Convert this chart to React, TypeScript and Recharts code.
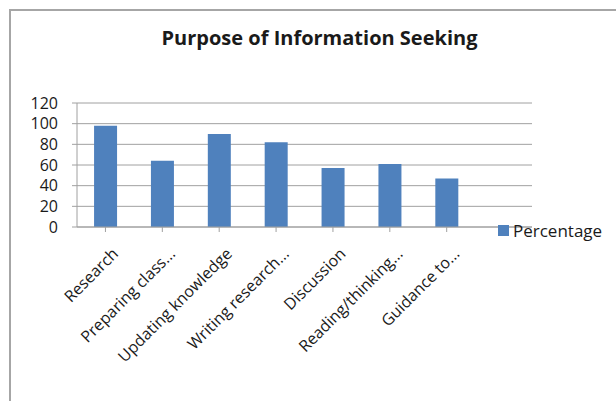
import { BarChart, Bar, XAxis, YAxis, CartesianGrid } from "recharts";

const categories = [
  "Research",
  "Preparing class...",
  "Updating knowledge",
  "Writing research...",
  "Discussion",
  "Reading/thinking...",
  "Guidance to...",
  "",
];
const percentage = [98, 64, 90, 82, 57, 61, 47, null];
const yTicks = [0, 20, 40, 60, 80, 100, 120];
const seriesName = "Percentage";

const data = categories.map((name, i) => ({ name, Percentage: percentage[i] }));

const FONT = "'Open Sans', sans-serif";
const TEXT = "#1a1a1a";
const BAR = "#4f81bd";

// rotated category labels, end of text hangs just under the category centre
function AngledTick(props: any) {
  const { x, y, payload } = props;
  return (
    <g transform={`translate(${x + 11},${y + 18})`}>
      <text
        x={0}
        y={0}
        dy={4}
        textAnchor="end"
        transform="rotate(-45)"
        fontSize={16}
        fontFamily={FONT}
        fill={TEXT}
      >
        {payload.value}
      </text>
    </g>
  );
}

export default function App() {
  return (
    <div
      style={{
        position: "fixed",
        left: 0,
        top: 0,
        width: 616,
        height: 401,
        overflow: "hidden",
        background: "#fff",
      }}
    >
      <div
        style={{
          position: "absolute",
          left: 9,
          top: 9,
          width: 700,
          height: 500,
          border: "2px solid #a6a6a6",
        }}
      />
      <div
        style={{
          position: "absolute",
          left: 0,
          width: 639,
          top: 24,
          textAlign: "center",
          fontFamily: FONT,
          fontWeight: 700,
          fontSize: 20,
          color: TEXT,
        }}
      >
        Purpose of Information Seeking
      </div>
      <div style={{ position: "absolute", left: 0, top: 0 }}>
        <BarChart
          width={616}
          height={401}
          data={data}
          margin={{ top: 103, right: 84, bottom: 54, left: 17 }}
          barCategoryGap="30%"
        >
          <CartesianGrid vertical={false} stroke="#a0a0a0" strokeWidth={1} />
          <XAxis
            dataKey="name"
            interval={0}
            height={120}
            stroke="#a0a0a0"
            tickSize={5}
            tick={<AngledTick />}
          />
          <YAxis
            domain={[0, 120]}
            ticks={yTicks}
            interval={0}
            width={60}
            stroke="#a0a0a0"
            tickSize={5}
            tickMargin={14}
            tick={{ fontSize: 16, fontFamily: FONT, fill: TEXT }}
          />
          <Bar dataKey="Percentage" fill={BAR} isAnimationActive={false} />
        </BarChart>
      </div>
      <div
        style={{
          position: "absolute",
          left: 498,
          top: 219,
          display: "flex",
          alignItems: "center",
          fontFamily: FONT,
          fontSize: 17,
          color: TEXT,
        }}
      >
        <span style={{ width: 11, height: 11, background: BAR, marginRight: 4 }} />
        {seriesName}
      </div>
    </div>
  );
}
